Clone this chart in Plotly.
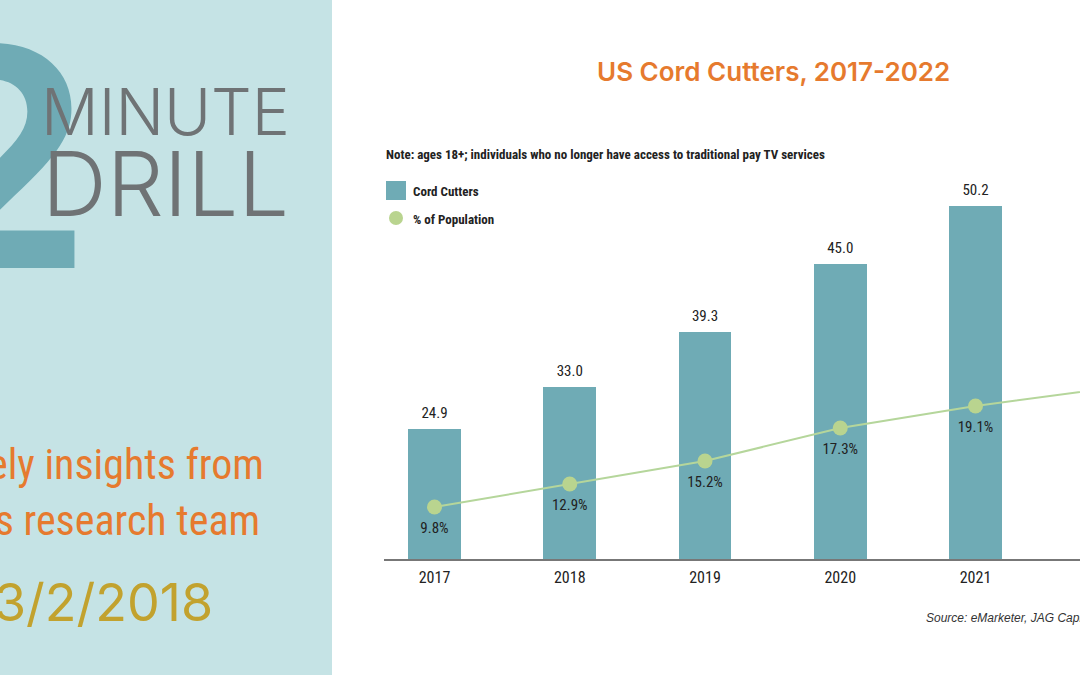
import plotly.graph_objects as go

years = [2017, 2018, 2019, 2020, 2021, 2022]
cord_cutters = [24.9, 33.0, 39.3, 45.0, 50.2, 54.8]
# The reference's bars are not drawn in proportion to their labels: drawn heights are read separately
bar_heights = [130, 172, 227, 295, 353, 400]
pct_population = [9.8, 12.9, 15.2, 17.3, 19.1, 20.4]
line_heights = [52, 75, 98, 131, 153, 171]

W, H = 1080, 675
NARROW = "Roboto Condensed, Lato"
TEAL = "#6fabb5"
PANEL = "#c5e3e5"
ORANGE = "#e67a2e"
GREEN = "#b9d48f"
DARK = "#222222"
GREY = "#6f7375"

fig = go.Figure()
fig.add_trace(go.Bar(
    x=years, y=bar_heights, width=0.39, name="Cord Cutters",
    marker=dict(color=TEAL, line=dict(width=0)),
))
fig.add_trace(go.Scatter(
    x=years, y=line_heights, name="% of Population", mode="lines+markers",
    line=dict(color="#b5d69b", width=2),
    marker=dict(color=GREEN, size=15),
))
fig.add_trace(go.Scatter(
    x=years, y=[h + 15 for h in bar_heights], mode="text",
    text=[f"{v:.1f}" for v in cord_cutters], textposition="middle center",
    textfont=dict(family=NARROW, size=15, color=DARK),
))
fig.add_trace(go.Scatter(
    x=years, y=[h - 22 for h in line_heights], mode="text",
    text=[f"{v}%" for v in pct_population], textposition="middle center",
    textfont=dict(family=NARROW, size=15, color=DARK),
))

L, R, T, B = 384, 0, 60, 116
PW, PH = W - L - R, H - T - B


def X(x):
    return (x - L) / PW


def Y(y):
    return (H - B - y) / PH


def note(text, x, y, size, color, family=NARROW, anchor="left", weight=None, style=None):
    fig.add_annotation(
        xref="paper", yref="paper", x=X(x), y=Y(y), text=text, showarrow=False,
        xanchor=anchor, yanchor="middle", borderpad=0, borderwidth=0,
        font=dict(family=family, size=size, color=color,
                  weight=weight if weight else "normal", style=style if style else "normal"),
    )


fig.add_shape(type="rect", xref="paper", yref="paper", x0=X(0), x1=X(332), y0=Y(0), y1=Y(675),
              fillcolor=PANEL, line_width=0, layer="below")
note("2", 91, 157, 305, TEAL, family="Inter", anchor="right", weight=700)
note("MINUTE", 41, 111, 64, GREY, family="Inter", weight=300)
note("DRILL", 42, 183, 90, GREY, family="Inter", weight=300)
note("ely insights from", 264, 464, 42, ORANGE, anchor="right")
note("'s research team", 260, 520, 42, ORANGE, anchor="right")
note("3/2/2018", 213, 602, 52, "#c2a22e", family="Inter", anchor="right")

note("US Cord Cutters, 2017-2022", 773, 71, 26, ORANGE, family="Inter", anchor="center", weight=600)
note("Note: ages 18+; individuals who no longer have access to traditional pay TV services",
     386, 154, 13, DARK, weight=700)
fig.add_shape(type="rect", xref="paper", yref="paper", x0=X(386), x1=X(406), y0=Y(181), y1=Y(200),
              fillcolor=TEAL, line_width=0)
fig.add_shape(type="circle", xref="paper", yref="paper", x0=X(389), x1=X(403), y0=Y(211), y1=Y(225),
              fillcolor=GREEN, line_width=0)
note("Cord Cutters", 413, 191, 13, DARK, weight=700)
note("% of Population", 413, 219, 13, DARK, weight=700)
note("Source: eMarketer, JAG Capital", 926, 618, 12, "#333333", family="Liberation Sans", style="italic")

fig.update_layout(
    width=W, height=H, autosize=False, margin=dict(l=L, r=R, t=T, b=B, pad=0),
    paper_bgcolor="white", plot_bgcolor="white", showlegend=False, bargap=0,
    xaxis=dict(range=[2017 - 50.5 / 135.25, 2017 + 645.5 / 135.25], tickvals=years,
               showgrid=False, zeroline=False, showline=True, linecolor="#777777", linewidth=1.5,
               ticks="", ticklabelstandoff=3, tickfont=dict(family=NARROW, size=16, color=DARK),
               fixedrange=True),
    yaxis=dict(range=[0, PH], visible=False, fixedrange=True),
)
fig.write_html("out.html", config=dict(displayModeBar=False),
               post_script="document.body.style.margin='0';document.body.style.overflow='hidden';")
